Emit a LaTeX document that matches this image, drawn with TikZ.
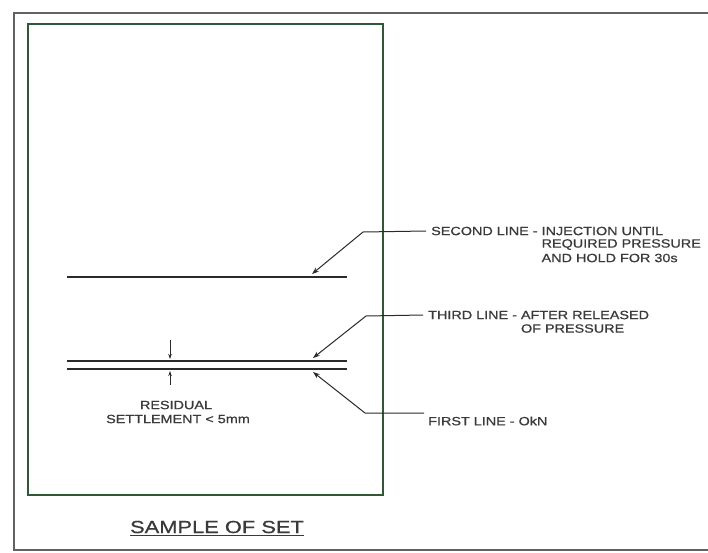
\documentclass[tikz,border=0pt]{standalone}
\usepackage{fontspec}
\setmainfont{Liberation Sans}
\newfontfamily\lblfont{Liberation Sans}[FakeStretch=1.2,FakeBold=0.8]
\newfontfamily\ttlfont{Liberation Sans}[FakeStretch=1.25,FakeBold=0.8]
\usetikzlibrary{arrows.meta}
\definecolor{framegray}{HTML}{626262}
\definecolor{boxgreen}{HTML}{2D5A35}
\definecolor{inkc}{HTML}{2A2A2A}
\definecolor{txtc}{HTML}{3A3A3A}
\tikzset{
  frameline/.style={draw=framegray, line width=1.6pt},
  greenbox/.style={draw=boxgreen, line width=2pt},
  setline/.style={draw=inkc, line width=1.5pt},
  leader/.style={draw=inkc, line width=1pt, -{Stealth[length=7pt,width=5pt]}},
  tick/.style={draw=inkc, line width=0.8pt, -{Stealth[length=5pt,width=3.5pt]}},
  lbl/.style={font=\lblfont\fontsize{12}{13.5}\selectfont, text=txtc, inner sep=0pt, anchor=west, align=left},
}
\begin{document}
\begin{tikzpicture}[x=1pt,y=-1pt]
\useasboundingbox (0,0) rectangle (708,552);
% outer frame
\draw[frameline] (708,13) -- (14,13) -- (14,550) -- (708,550);
% green box
\draw[greenbox] (28,24) rectangle (383,495);
% lines
\coordinate (l2a) at (67,277); \coordinate (l2b) at (347,277);
\coordinate (l3a) at (67,361); \coordinate (l3b) at (347,361);
\coordinate (l1a) at (67,369); \coordinate (l1b) at (347,369);
\draw[setline] (l2a) -- (l2b);
\draw[setline] (l3a) -- (l3b);
\draw[setline] (l1a) -- (l1b);
% labels
\node[lbl] (s2) at (431,231) {SECOND LINE - INJECTION UNTIL};
\node[lbl] (s2b) at (431,244.5) {\hphantom{SECOND LINE - }REQUIRED PRESSURE};
\node[lbl] (s2c) at (431,258) {\hphantom{SECOND LINE - }AND HOLD FOR 30s};
\node[lbl] (s3) at (428,315) {THIRD LINE - AFTER RELEASED};
\node[lbl] (s3b) at (428,328.5) {\hphantom{THIRD LINE - }OF PRESSURE};
\node[lbl] (s1) at (428,421) {FIRST LINE - OkN};
% leaders
\coordinate (t2) at (312,274); \coordinate (b2) at (363,232);
\coordinate (t3) at (313,358); \coordinate (b3) at (366,316);
\coordinate (t1) at (313,372); \coordinate (b1) at (365,413);
\coordinate (e1) at (424,413);
\draw[leader] ([xshift=-5pt]s2.west) -- (b2) -- (t2);
\draw[leader] ([xshift=-5pt]s3.west) -- (b3) -- (t3);
\draw[leader] (e1) -- (b1) -- (t1);
% residual settlement ticks
\coordinate (ra) at (170,340); \coordinate (rb) at (170,359);
\coordinate (rc) at (170,385); \coordinate (rd) at (170,371);
\draw[tick] (ra) -- (rb);
\draw[tick] (rc) -- (rd);
\node[lbl, anchor=center] (rs1) at (176,405) {RESIDUAL};
\node[lbl, anchor=center] (rs2) at (178,419) {SETTLEMENT {<} 5mm};
% title
\node[font=\ttlfont\fontsize{17.5}{19}\selectfont, text=txtc, inner sep=0pt] (title) at (217,527) {SAMPLE OF SET};
\draw[draw=txtc, line width=1.1pt] ([yshift=-2.5pt]title.south west) -- ([yshift=-2.5pt]title.south east);
\end{tikzpicture}
\end{document}
